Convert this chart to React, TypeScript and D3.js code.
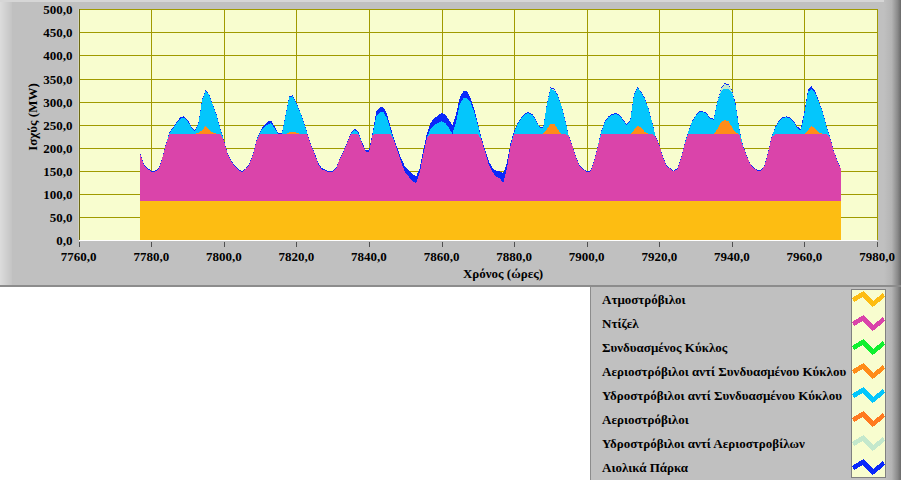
import React from "react";
import * as d3 from "d3";

// ---------- DATA ----------
const START_HOUR = 7777;
// Total system load (MW), hourly from 7777 to 7970
const load: number[] = [
  188, 163, 156, 150, 150, 155, 178, 207, 234, 244, // 7777-7786
  256, 266, 268, 261, 246, 237, 254, 304, 326, 315, // 7787-7796
  293, 272, 243, 217, 189, 172, 162, 153, 149, 155, // 7797-7806
  165, 186, 217, 236, 248, 256, 259, 246, 232, 231, // 7807-7816
  272, 311, 314, 297, 279, 257, 232, 207, 189, 167, // 7817-7826
  156, 152, 149, 150, 158, 178, 194, 212, 232, 241, // 7827-7836
  236, 214, 196, 194, 232, 279, 288, 287, 272, 243, // 7837-7846
  217, 196, 174, 158, 150, 142, 138, 156, 196, 232, // 7847-7856
  254, 264, 270, 275, 272, 261, 248, 272, 308, 323, // 7857-7866
  322, 308, 283, 254, 221, 196, 171, 156, 150, 149, // 7867-7876
  145, 167, 210, 236, 254, 266, 275, 277, 273, 261, // 7877-7886
  246, 245, 293, 331, 328, 315, 293, 264, 228, 207, // 7887-7896
  181, 163, 155, 149, 150, 171, 203, 236, 257, 268, // 7897-7906
  273, 275, 272, 261, 251, 260, 315, 331, 322, 308, // 7907-7916
  286, 257, 225, 207, 181, 162, 156, 150, 156, 178, // 7917-7926
  210, 236, 257, 270, 279, 279, 276, 264, 263, 300, // 7927-7936
  329, 340, 338, 326, 297, 245, 207, 185, 167, 158, // 7937-7946
  152, 152, 162, 192, 225, 246, 259, 266, 268, 266, // 7947-7956
  258, 246, 241, 279, 326, 333, 322, 301, 279, 250, // 7957-7966
  225, 196, 174, 156,                               // 7967-7970
];
// Wind parks output (MW), hourly
const wind: number[] = [
  2, 2, 2, 2, 2, 2, 2, 2, 2, 2,
  2, 3, 3, 3, 2, 2, 2, 2, 2, 2,
  2, 2, 2, 2, 2, 2, 2, 2, 2, 2,
  2, 2, 2, 2, 4, 6, 6, 4, 2, 2,
  2, 2, 2, 2, 2, 2, 2, 2, 2, 3,
  3, 2, 2, 2, 2, 2, 2, 2, 2, 3,
  3, 3, 4, 4, 4, 10, 11, 10, 8, 6,
  5, 6, 8, 12, 13, 15, 15, 10, 8, 10,
  12, 15, 17, 18, 18, 18, 18, 17, 14, 16,
  15, 10, 6, 4, 4, 5, 7, 9, 12, 15,
  22, 12, 6, 3, 2, 2, 2, 2, 2, 2,
  2, 2, 2, 2, 2, 2, 2, 2, 2, 2,
  2, 2, 2, 2, 2, 2, 2, 2, 2, 2,
  2, 2, 2, 2, 2, 2, 2, 2, 2, 2,
  2, 2, 2, 2, 2, 2, 2, 2, 2, 2,
  2, 2, 2, 2, 2, 2, 2, 2, 2, 2,
  2, 2, 2, 2, 3, 2, 2, 2, 2, 2,
  2, 2, 2, 2, 2, 2, 2, 2, 2, 2,
  2, 3, 4, 5, 5, 5, 4, 3, 2, 2,
  2, 2, 2, 2,
];
// Sparse series: [hour, MW]
const gtInsteadOfCC: [number, number][] = [
  [7793, 2], [7794, 8], [7795, 17], [7796, 8], [7797, 3],
  [7818, 3], [7819, 5], [7820, 3],
  [7889, 10], [7890, 22], [7891, 22], [7892, 10],
  [7913, 8], [7914, 18], [7915, 14], [7916, 4],
  [7936, 10], [7937, 25], [7938, 30], [7939, 28], [7940, 15], [7941, 3],
  [7961, 8], [7962, 17], [7963, 12], [7964, 3],
];
const hydroInsteadOfGT: [number, number][] = [
  [7890, 2], [7891, 1],
  [7937, 5], [7938, 10], [7939, 9], [7940, 3],
];
const combinedCycle: [number, number][] = [];
const gasTurbines: [number, number][] = [];
const STEAM_MW = 85;
const DIESEL_CAP_MW = 145;

const seriesNames = [
  "Ατμοστρόβιλοι",
  "Ντίζελ",
  "Συνδυασμένος Κύκλος",
  "Αεριοστρόβιλοι αντί Συνδυασμένου Κύκλου",
  "Υδροστρόβιλοι αντί Συνδυασμένου Κύκλου",
  "Αεριοστρόβιλοι",
  "Υδροστρόβιλοι αντί Αεριοστροβίλων",
  "Αιολικά Πάρκα",
];
const seriesColors = [
  "#FDBD12", "#DA44AA", "#10F030", "#FF8C1A",
  "#04C6FC", "#FF7A20", "#C4E8CC", "#0A28FA",
];
const xTicks = [7760, 7780, 7800, 7820, 7840, 7860, 7880, 7900, 7920, 7940, 7960, 7980];
const yTicks = [0, 50, 100, 150, 200, 250, 300, 350, 400, 450, 500];
const xTitle = "Χρόνος (ώρες)";
const yTitle = "Ισχύς (MW)";

// ---------- BUILD TABLE ----------
const sparse = (pairs: [number, number][]) => {
  const m = new Map(pairs);
  return (h: number) => m.get(h) ?? 0;
};
const gtcc = sparse(gtInsteadOfCC);
const hgt = sparse(hydroInsteadOfGT);
const cc = sparse(combinedCycle);
const gt = sparse(gasTurbines);

const keys = ["steam", "diesel", "cc", "gtcc", "hcc", "gt", "hgt", "wind"];
const table = load.map((L, i) => {
  const h = START_HOUR + i;
  const w = wind[i];
  const o = gtcc(h);
  const p = hgt(h);
  const c = cc(h);
  const g = gt(h);
  const diesel = Math.min(L - STEAM_MW - w - o - p - c - g, DIESEL_CAP_MW);
  const hcc = Math.max(0, L - STEAM_MW - diesel - w - o - p - c - g);
  return { hour: h, steam: STEAM_MW, diesel, cc: c, gtcc: o, hcc, gt: g, hgt: p, wind: w };
});

const fmt = (v: number) => d3.format(".1f")(v).replace(".", ",");

export default function App() {
  const W = 901, H = 480;
  const x = d3.scaleLinear().domain([7760, 7980]).range([78.7, 877]);
  const y = d3.scaleLinear().domain([0, 500]).range([240, 9.3]);
  const px = (v: number) => Math.round(x(v)) + 0.5;
  const py = (v: number) => Math.round(y(v)) + 0.5;
  const stack = d3.stack<any>().keys(keys);
  const layers = stack(table);
  const area = d3
    .area<any>()
    .x((d) => x(d.data.hour))
    .y0((d) => y(d[0]))
    .y1((d) => y(d[1]))
    .curve(d3.curveLinear);

  const font = "'Liberation Serif', 'Times New Roman', serif";
  const legendY0 = 299;
  const legendStep = 24;

  return (
    <svg width={W} height={H} style={{ position: "absolute", left: 0, top: 0, background: "#fff" }}>
      <defs>
        <linearGradient id="bevelR" x1="0" x2="1" y1="0" y2="0">
          <stop offset="0" stopColor="#c0c0c0" />
          <stop offset="0.45" stopColor="#b4b4b4" />
          <stop offset="0.8" stopColor="#8a8a8a" />
          <stop offset="1" stopColor="#6a6a6a" />
        </linearGradient>
        <linearGradient id="bevelL" x1="0" x2="1" y1="0" y2="0">
          <stop offset="0" stopColor="#dcdcdc" />
          <stop offset="1" stopColor="#c4c4c4" />
        </linearGradient>
        <clipPath id="plotClip">
          <rect x={x(7760)} y={y(500)} width={x(7980) - x(7760)} height={y(0) - y(500)} />
        </clipPath>
      </defs>

      {/* chart panel */}
      <rect x={0} y={0} width={W} height={287} fill="#c0c0c0" />
      <rect x={0} y={0} width={12} height={286} fill="url(#bevelL)" />
      <rect x={0} y={0} width={W} height={2} fill="#d6d6d6" />
      <rect x={884} y={0} width={17} height={287} fill="url(#bevelR)" />
      <rect x={0} y={285} width={W} height={2} fill="#8c8c8c" />

      {/* plot background */}
      <rect
        x={x(7760)}
        y={y(500)}
        width={x(7980) - x(7760)}
        height={y(0) - y(500)}
        fill="#F8FDCF"
      />
      {/* grid */}
      <g stroke="#A09A00" strokeWidth={1} shapeRendering="crispEdges">
        {yTicks.map((t) => (
          <line key={"gy" + t} x1={x(7760)} x2={x(7980)} y1={py(t)} y2={py(t)} />
        ))}
        {xTicks.map((t) => (
          <line key={"gx" + t} x1={px(t)} x2={px(t)} y1={y(500)} y2={y(0)} />
        ))}
      </g>

      {/* stacked areas */}
      <g clipPath="url(#plotClip)" shapeRendering="crispEdges">
        {layers.map((layer, i) => (
          <path key={keys[i]} d={area(layer) || ""} fill={seriesColors[i]} stroke="none" />
        ))}
      </g>

      {/* axis frame */}
      <line x1={px(7760)} x2={px(7760)} y1={y(500)} y2={y(0)} stroke="#6e6a10" strokeWidth={1} shapeRendering="crispEdges" />
      <line x1={x(7760)} x2={x(7980)} y1={240.5} y2={240.5} stroke="#ffffff" strokeWidth={1.5} shapeRendering="crispEdges" />
      <g stroke="#505050" strokeWidth={1} shapeRendering="crispEdges">
        {xTicks.map((t) => (
          <line key={"tx" + t} x1={px(t)} x2={px(t)} y1={241.5} y2={246.5} />
        ))}
      </g>

      {/* tick labels */}
      <g fontFamily={font} fontWeight="bold" fontSize={13} fill="#000">
        {yTicks.map((t) => (
          <text key={"ly" + t} x={72.5} y={y(t) + 5} textAnchor="end">
            {fmt(t)}
          </text>
        ))}
        {xTicks.map((t) => (
          <text key={"lx" + t} x={x(t)} y={261} textAnchor="middle">
            {fmt(t)}
          </text>
        ))}
        <text x={503} y={277.5} textAnchor="middle">
          {xTitle}
        </text>
        <text x={0} y={0} textAnchor="middle" transform="translate(36.5,117) rotate(-90)">
          {yTitle}
        </text>
      </g>

      {/* legend panel */}
      <rect x={590} y={287} width={311} height={193} fill="#c0c0c0" />
      <line x1={590.5} x2={590.5} y1={287} y2={480} stroke="#8c8c8c" />
      <rect x={884} y={287} width={17} height={193} fill="url(#bevelR)" />
      <rect x={851.5} y={289.5} width={34} height={188} fill="#F8FDCF" stroke="#808080" strokeWidth={1} />
      <g fontFamily={font} fontWeight="bold" fontSize={13} fill="#000">
        {seriesNames.map((n, i) => (
          <text key={"lt" + i} x={602} y={legendY0 + i * legendStep + 4.5}>
            {n}
          </text>
        ))}
      </g>
      <g shapeRendering="crispEdges">
        {seriesColors.map((c, i) => {
          const cy = legendY0 + i * legendStep;
          const pts: [number, number][] = [
            [853, cy + 1],
            [863, cy - 5],
            [873, cy + 5],
            [884, cy - 4],
          ];
          return (
            <path
              key={"sw" + i}
              d={d3.line()(pts) || ""}
              fill="none"
              stroke={c}
              strokeWidth={4.5}
              strokeLinejoin="miter"
            />
          );
        })}
      </g>
    </svg>
  );
}
